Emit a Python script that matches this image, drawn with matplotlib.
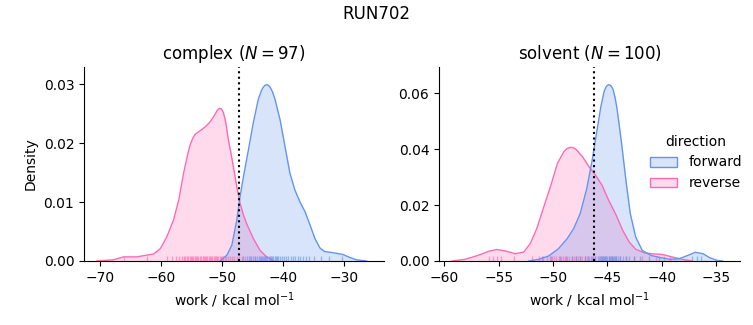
import matplotlib
matplotlib.use("Agg")
import matplotlib.pyplot as plt
from matplotlib.patches import Patch

# ---- data ----
suptitle = "RUN702"
panels = ["complex", "solvent"]
n_samples = [97, 100]
directions = ["forward", "reverse"]
colors = {"forward": "#6495ED", "reverse": "#FF69B4"}
mean_lines = [-47.2, -46.2]

# KDE curves (work, density)
complex_fwd_x = [-50.3, -49.2, -48.4, -47.6, -47.06, -46.5, -45.7, -44.9, -44.1, -43.6, -43.25, -42.95, -42.7,
                 -42.45, -42.15, -41.75, -41.3, -40.5, -39.7, -38.9, -38.07, -37.25, -36.4, -35.6, -34.8,
                 -33.98, -33.2, -31.8, -30.2, -29.1, -28.0, -26.35]
complex_fwd_y = [0.0, 0.001, 0.0027, 0.0069, 0.0109, 0.0143, 0.0188, 0.0234, 0.0273, 0.0288, 0.0295, 0.0298,
                 0.0299, 0.0298, 0.0295, 0.0287, 0.0273, 0.0239, 0.0194, 0.0149, 0.012, 0.0100, 0.0083,
                 0.0061, 0.0038, 0.0022, 0.0016, 0.0014, 0.0011, 0.0006, 0.0002, 0.0]
complex_rev_x = [-70.5, -67.8, -66.1, -63.95, -62.3, -61.2, -60.1, -59.05, -57.96, -57.1, -56.3, -55.6,
                 -55.23, -54.8, -54.4, -53.7, -53.05, -52.5, -51.96, -51.5, -51.1, -50.75, -50.4, -50.1,
                 -49.8, -49.45, -48.96, -48.5, -48.15, -47.6, -47.06, -46.5, -45.97, -44.88, -43.79, -42.7,
                 -41.5]
complex_rev_y = [0.0, 0.0002, 0.0007, 0.0007, 0.001, 0.0012, 0.0021, 0.0041, 0.0069, 0.0103, 0.0149, 0.0182,
                 0.0197, 0.0208, 0.0215, 0.0220, 0.0225, 0.0230, 0.0236, 0.0243, 0.025, 0.0256, 0.0259,
                 0.0258, 0.0252, 0.0238, 0.0205, 0.0180, 0.016, 0.0126, 0.0098, 0.0078, 0.0063, 0.0038,
                 0.0018, 0.0007, 0.0]
solvent_fwd_x = [-52.25, -51.3, -50.4, -49.5, -48.7, -48.1, -47.5, -46.9, -46.4, -46.0, -45.6, -45.3, -45.1,
                 -44.9, -44.7, -44.5, -44.3, -44.1, -43.7, -43.3, -42.9, -42.4, -41.8, -41.0, -40.1, -39.2,
                 -38.4, -37.6, -36.9, -36.2, -35.6, -34.9, -34.4]
solvent_fwd_y = [0.0, 0.0006, 0.0018, 0.0044, 0.008, 0.0116, 0.017, 0.0259, 0.0361, 0.0457, 0.0552, 0.0606,
                 0.0624, 0.063, 0.0627, 0.0615, 0.0585, 0.054, 0.0421, 0.0289, 0.017, 0.0086, 0.0038, 0.002,
                 0.0012, 0.0006, 0.0008, 0.002, 0.0031, 0.0026, 0.0012, 0.0002, 0.0]
solvent_rev_x = [-59.3, -58.1, -56.9, -55.9, -55.2, -54.4, -53.5, -52.7, -52.1, -51.5, -50.9, -50.2, -49.6,
                 -49.0, -48.7, -48.4, -48.1, -47.9, -47.3, -46.7, -46.1, -45.5, -44.9, -44.2, -43.6, -43.0,
                 -42.4, -41.6, -40.9, -39.9, -39.0, -38.1, -37.2]
solvent_rev_y = [0.0, 0.0006, 0.002, 0.0035, 0.0041, 0.0036, 0.0026, 0.0032, 0.0062, 0.0116, 0.0188, 0.0271,
                 0.0349, 0.0391, 0.0402, 0.0406, 0.0404, 0.0399, 0.0373, 0.0337, 0.0307, 0.0271, 0.0218,
                 0.0164, 0.011, 0.0068, 0.0042, 0.0029, 0.0026, 0.0023, 0.0014, 0.0006, 0.0]

# rug samples (work values)
complex_fwd_rug = [-46.6, -46.0, -45.6, -45.2, -44.9, -44.6, -44.3, -44.0, -43.8, -43.6, -43.4, -43.2, -43.0,
                   -42.8, -42.6, -42.4, -42.2, -42.0, -41.8, -41.6, -41.4, -41.2, -41.0, -40.8, -40.5, -40.2,
                   -39.9, -39.6, -39.2, -38.8, -38.4, -38.0, -37.6, -37.2, -36.8, -36.3, -35.8, -35.0, -33.8,
                   -32.5, -30.3]
complex_rev_rug = [-66.0, -62.3, -59.0, -58.2, -57.5, -57.1, -56.6, -56.3, -56.0, -55.8, -55.5, -55.3, -55.1,
                   -54.9, -54.7, -54.5, -54.3, -54.1, -53.9, -53.6, -53.4, -53.2, -53.0, -52.8, -52.6, -52.4,
                   -52.2, -52.0, -51.8, -51.6, -51.4, -51.2, -51.0, -50.8, -50.6, -50.4, -50.2, -50.0, -49.8,
                   -49.6, -49.3, -49.0, -48.7, -48.4, -48.0, -47.6, -47.2, -46.8, -46.2, -45.5, -44.6, -43.3]
solvent_fwd_rug = [-51.0, -50.2, -49.4, -48.8, -48.3, -47.9, -47.5, -47.1, -46.8, -46.5, -46.3, -46.1, -45.9,
                   -45.7, -45.6, -45.5, -45.4, -45.3, -45.2, -45.1, -45.0, -44.9, -44.8, -44.7, -44.6, -44.5,
                   -44.4, -44.3, -44.2, -44.0, -43.8, -43.6, -43.3, -43.0, -42.6, -42.0, -41.2, -40.3, -37.2,
                   -36.8, -36.4]
solvent_rev_rug = [-55.9, -55.5, -55.2, -54.8, -53.6, -51.9, -51.3, -50.9, -50.6, -50.3, -50.1, -49.9, -49.7,
                   -49.5, -49.3, -49.1, -48.9, -48.7, -48.5, -48.3, -48.1, -47.9, -47.7, -47.5, -47.3, -47.1,
                   -46.9, -46.7, -46.4, -46.1, -45.8, -45.5, -45.2, -44.9, -44.6, -44.2, -43.8, -43.3, -42.6,
                   -41.8, -40.5, -39.8, -39.2]

xlims = [(-72.6, -23.5), (-60.5, -32.8)]
ylims = [(0, 0.0329), (0, 0.0693)]
xticks = [[-70, -60, -50, -40, -30], [-60, -55, -50, -45, -40, -35]]
yticks = [[0.0, 0.01, 0.02, 0.03], [0.0, 0.02, 0.04, 0.06]]

curves = [
    {"forward": (complex_fwd_x, complex_fwd_y, complex_fwd_rug),
     "reverse": (complex_rev_x, complex_rev_y, complex_rev_rug)},
    {"forward": (solvent_fwd_x, solvent_fwd_y, solvent_fwd_rug),
     "reverse": (solvent_rev_x, solvent_rev_y, solvent_rev_rug)},
]

fig = plt.figure(figsize=(7.53, 3.25), dpi=100)
axes = [fig.add_axes([84 / 753, 1 - 261 / 325, 300 / 753, 194 / 325]),
        fig.add_axes([439 / 753, 1 - 261 / 325, 301 / 753, 194 / 325])]

for i, ax in enumerate(axes):
    for d in ["reverse", "forward"]:
        xs, ys, rug = curves[i][d]
        c = colors[d]
        ax.fill_between(xs, ys, 0, color=c, alpha=0.25, linewidth=0)
        ax.plot(xs, ys, color=c, linewidth=1)
        ax.vlines(rug, 0, 0.025, transform=ax.get_xaxis_transform(), color=c, alpha=0.6, linewidth=1)
    ax.axvline(mean_lines[i], color="black", linestyle=":", linewidth=1.5)
    ax.set_xlim(*xlims[i])
    ax.set_ylim(*ylims[i])
    ax.set_xticks(xticks[i])
    ax.set_yticks(yticks[i])
    ax.set_title(f"{panels[i]} ($N = {n_samples[i]}$)", fontsize=12)
    ax.set_xlabel("work / kcal mol$^{-1}$")
    ax.spines["top"].set_visible(False)
    ax.spines["right"].set_visible(False)

axes[0].set_ylabel("Density")
fig.suptitle(suptitle, fontsize=12, y=0.985)

handles = [Patch(facecolor=(*matplotlib.colors.to_rgb(colors[d]), 0.25),
                 edgecolor=colors[d], linewidth=1) for d in directions]
fig.legend(handles, directions, title="direction", frameon=False,
           loc="center left", bbox_to_anchor=(0.846, 0.5), fontsize=10, title_fontsize=10)

fig.savefig("out.png", dpi=100)
